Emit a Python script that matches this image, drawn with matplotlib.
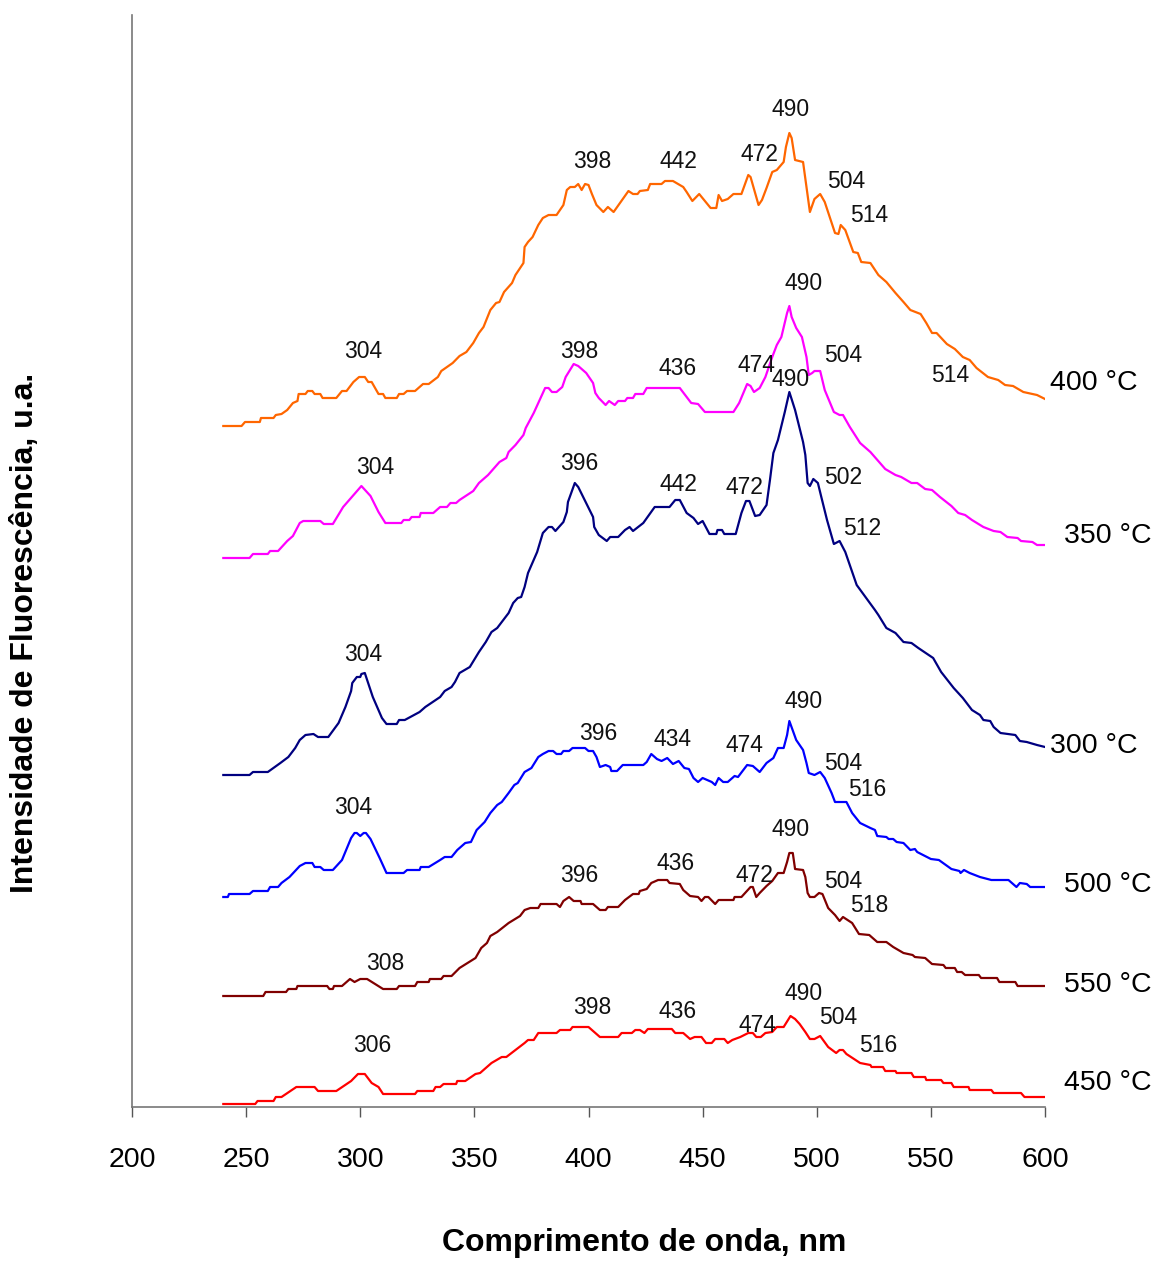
import matplotlib
matplotlib.use("Agg")
import matplotlib.pyplot as plt
from matplotlib import font_manager

# Emission spectra, wavelength (nm) vs fluorescence intensity (a.u., stacked)
wl_400 = [240, 248, 249.5, 256, 256.5, 262, 263, 265.5, 268, 270.5,
          272.5, 273, 276, 277, 279, 280, 282.5, 283.5, 289.5, 292,
          294, 297, 299.5, 302, 303.5, 305, 308, 310, 311, 316,
          317, 319, 320.5, 324, 327.5, 330, 334, 335.5, 340.5, 343.5,
          346.5, 349.5, 352, 354, 357, 359.5, 361, 363, 366.5, 368,
          371.5, 372, 373.5, 375.5, 378, 380, 382.5, 386, 389, 390.5,
          392, 394, 395.5, 397, 398.5, 400, 401.5, 403.5, 406.5, 408.5,
          411, 417.5, 419.5, 421.5, 422.5, 426, 427, 432, 433.5, 437,
          441.5, 443, 445.5, 448.5, 453.5, 456, 457, 458.5, 461, 463.5,
          467, 470, 471, 474.5, 476, 478, 480.5, 482.5, 485.5, 486.5,
          488, 489, 490.5, 494, 495.5, 497, 499, 501.5, 503.5, 508,
          509.5, 510.5, 512.5, 516, 518, 519.5, 523.5, 527, 530.5, 534.5,
          538, 541, 545.5, 548, 550.5, 552.5, 557, 560.5, 564, 567,
          570, 575, 579.5, 582.5, 586, 590.5, 596.5, 600]
int_400 = [681, 681, 685, 685, 689, 689, 692, 693, 697, 704,
           706, 713, 713, 716, 716, 713, 713, 709, 709, 716,
           716, 725, 730, 730, 725, 725, 713, 713, 709, 709,
           713, 713, 716, 716, 723, 723, 730, 736, 744, 751,
           755, 764, 774, 780, 797, 804, 805, 815, 824, 832,
           844, 860, 865, 870, 882, 889, 892, 892, 902, 917,
           920, 920, 923, 917, 923, 922, 913, 902, 895, 900,
           895, 916, 913, 913, 916, 917, 923, 923, 926, 926,
           920, 915, 906, 913, 899, 899, 912, 906, 908, 913,
           913, 932, 930, 902, 907, 919, 935, 937, 945, 960,
           974, 969, 947, 945, 920, 895, 908, 913, 905, 874,
           873, 882, 877, 855, 854, 845, 844, 832, 825, 814,
           805, 797, 793, 784, 774, 774, 763, 758, 750, 747,
           739, 730, 727, 722, 721, 715, 712, 708]

wl_350 = [240, 251.5, 253, 259.5, 260.5, 264, 268, 270.5, 273.5, 275,
          282.5, 284, 288, 292.5, 300.5, 304.5, 308, 311, 318, 319,
          321.5, 322.5, 326, 326.5, 332, 335, 338, 339.5, 342, 343.5,
          349.5, 352, 356, 361, 364, 365, 368, 371.5, 372.5, 376,
          380, 381, 382.5, 384, 386, 388.5, 390, 393.5, 395.5, 399,
          402, 403, 404.5, 407.5, 409, 411.5, 413, 416, 417, 419.5,
          420.5, 424, 425.5, 440, 445, 448, 451, 463.5, 466, 469.5,
          471, 472.5, 475, 477.5, 480.5, 482.5, 484.5, 487, 488, 489,
          491, 493.5, 495.5, 496.5, 498, 499, 501.5, 503.5, 507.5, 510,
          511.5, 514.5, 519, 522, 523.5, 530, 534.5, 537, 541.5, 544,
          547.5, 550.5, 554, 559, 562, 565, 568, 573, 577.5, 580.5,
          583.5, 588, 589.5, 594.5, 596.5, 600]
int_350 = [549, 549, 553, 553, 556, 556, 566, 571, 584, 586,
           586, 583, 583, 600, 621, 611, 595, 584, 584, 587,
           587, 590, 590, 594, 594, 600, 600, 604, 604, 607,
           616, 624, 632, 645, 649, 655, 662, 672, 679, 694,
           714, 719, 719, 715, 715, 720, 730, 743, 741, 734,
           724, 714, 709, 702, 706, 702, 706, 706, 709, 709,
           713, 713, 719, 719, 704, 703, 695, 695, 704, 723,
           721, 715, 719, 730, 750, 762, 770, 794, 801, 790,
           779, 770, 750, 732, 734, 736, 736, 717, 695, 692,
           692, 680, 664, 658, 655, 638, 632, 630, 624, 624,
           618, 617, 610, 601, 594, 592, 587, 580, 576, 575,
           570, 569, 566, 565, 562, 562]

wl_300 = [240, 251.5, 253, 259.5, 265, 268.5, 271.5, 273.5, 276, 279.5,
          281.5, 286, 290.5, 293.5, 296, 296.5, 298.5, 300, 300.5, 302,
          305.5, 309.5, 311.5, 316, 317, 319.5, 326, 328.5, 335, 337,
          340, 341.5, 343.5, 348, 352, 355, 357.5, 360, 365, 367,
          369, 370.5, 372, 373.5, 377.5, 380, 382.5, 384, 385.5, 389,
          390.5, 391, 394, 395.5, 402, 402.5, 404.5, 408, 409.5, 413,
          416, 418, 419.5, 424, 429, 435.5, 438, 440, 443, 446,
          448, 450, 453, 456, 456.5, 458.5, 459.5, 464.5, 467, 469,
          470.5, 473, 475, 478, 479.5, 481, 483, 486, 488, 490.5,
          494, 495, 496, 497, 498.5, 500.5, 502, 504.5, 507.5, 510,
          512.5, 517.5, 525.5, 527, 530.5, 534.5, 538, 541.5, 544.5, 551,
          554.5, 560, 564, 568, 571.5, 573, 576, 577.5, 580.5, 587,
          589, 592, 596.5, 600]
int_300 = [332, 332, 335, 335, 344, 350, 359, 367, 372, 373,
           370, 370, 384, 400, 416, 424, 430, 430, 433, 434,
           410, 389, 383, 383, 387, 387, 395, 400, 410, 416,
           420, 425, 434, 440, 455, 465, 475, 479, 494, 504,
           509, 510, 520, 534, 555, 574, 580, 580, 576, 585,
           595, 605, 624, 620, 590, 580, 572, 566, 570, 570,
           577, 580, 576, 584, 600, 600, 607, 607, 594, 589,
           583, 586, 573, 573, 577, 577, 573, 573, 594, 606,
           606, 591, 592, 602, 627, 654, 667, 695, 715, 697,
           665, 652, 624, 621, 628, 624, 610, 587, 563, 566,
           555, 522, 497, 492, 479, 474, 465, 464, 459, 449,
           435, 419, 409, 397, 392, 387, 386, 380, 374, 372,
           366, 365, 362, 360]

wl_500 = [240, 242, 242.5, 251.5, 253, 259.5, 260.5, 264, 265.5, 269,
          273.5, 276, 279, 280, 282.5, 284, 288, 292, 296, 297.5,
          298.5, 300, 301.5, 302.5, 304.5, 308.5, 311.5, 319, 320.5, 326,
          326.5, 330, 335, 337, 340, 342.5, 346, 348.5, 351, 354.5,
          357, 360, 362, 365, 367.5, 369, 372, 375, 378, 380,
          382.5, 384.5, 386, 388, 389, 391.5, 393, 398.5, 400, 402,
          403.5, 405, 407.5, 409.5, 410, 412.5, 415, 424, 425.5, 427.5,
          430, 432, 434.5, 437, 439.5, 442, 444, 446, 448, 450,
          454, 455.5, 457, 459, 461, 464, 465.5, 469.5, 472, 475,
          478, 481, 483, 485.5, 487, 488, 491, 494, 495.5, 496.5,
          499, 501.5, 503.5, 506.5, 508, 513, 515.5, 519, 523.5, 525.5,
          526.5, 530.5, 531.5, 533.5, 535, 538, 541, 543, 544, 550,
          553.5, 559, 562.5, 563, 564.5, 567, 571.5, 576.5, 584, 585.5,
          587.5, 589, 592, 593.5, 600]
int_500 = [210, 210, 213, 213, 216, 216, 220, 220, 224, 230,
           241, 244, 244, 240, 240, 237, 237, 247, 269, 274,
           274, 271, 274, 274, 268, 249, 234, 234, 237, 237,
           240, 240, 247, 250, 250, 257, 264, 265, 277, 285,
           294, 302, 305, 314, 322, 324, 335, 339, 350, 353,
           356, 356, 353, 353, 356, 356, 359, 359, 356, 356,
           350, 340, 342, 340, 336, 336, 342, 342, 345, 353,
           348, 346, 349, 343, 346, 339, 338, 329, 325, 329,
           325, 322, 329, 325, 325, 331, 330, 342, 341, 335,
           344, 349, 359, 359, 372, 386, 367, 357, 344, 334,
           332, 335, 329, 314, 305, 305, 294, 284, 279, 277,
           271, 270, 268, 268, 265, 264, 257, 258, 255, 248,
           247, 238, 236, 234, 237, 234, 230, 227, 227, 224,
           220, 224, 223, 220, 220]

wl_550 = [240, 257.5, 258.5, 267.5, 268.5, 272, 272.5, 285.5, 286.5, 288,
          288.5, 292, 295.5, 297.5, 300, 303, 310, 316, 317, 324,
          325, 330, 330.5, 335.5, 336.5, 340, 343.5, 350.5, 353, 355.5,
          357, 360, 365, 370, 372, 374.5, 378, 379, 386, 387.5,
          389, 391.5, 393.5, 396.5, 397, 402, 405, 407.5, 408.5, 413,
          416, 419.5, 422, 422.5, 425.5, 427.5, 430.5, 434.5, 435.5, 440,
          441.5, 444.5, 448, 449.5, 451, 452.5, 455.5, 457, 463.5, 464,
          467, 471, 472, 473.5, 475, 478, 480.5, 483, 485.5, 487,
          488, 489.5, 490.5, 494, 495, 496, 497, 499, 501, 502.5,
          505, 508, 510, 511.5, 515.5, 518.5, 523, 526.5, 530.5, 533.5,
          538, 542, 543, 547.5, 550.5, 555.5, 556.5, 560.5, 561.5, 563.5,
          565, 571, 572, 579, 580, 587, 588, 600]
int_550 = [111, 111, 115, 115, 118, 118, 121, 121, 118, 118,
           121, 121, 128, 125, 128, 128, 118, 118, 121, 121,
           125, 125, 128, 128, 131, 131, 139, 149, 159, 164,
           171, 175, 184, 191, 197, 199, 199, 203, 203, 200,
           206, 210, 206, 206, 203, 203, 197, 197, 200, 200,
           207, 213, 213, 216, 218, 224, 227, 227, 224, 223,
           217, 211, 210, 206, 210, 210, 203, 207, 207, 210,
           210, 220, 220, 210, 214, 221, 226, 234, 234, 245,
           254, 254, 238, 237, 230, 214, 210, 210, 214, 213,
           199, 192, 186, 190, 184, 173, 172, 165, 165, 160,
           154, 152, 150, 149, 143, 142, 139, 139, 135, 135,
           132, 132, 129, 129, 125, 125, 121, 121]

wl_450 = [240, 254, 255, 262, 263, 265.5, 272, 280, 281.5, 289.5,
          296, 299, 302, 305, 308, 310, 324, 325, 332, 333,
          335, 336.5, 342, 342.5, 346, 350.5, 352.5, 357.5, 362, 364,
          368, 372, 373.5, 376, 378, 386, 387.5, 392, 393, 400,
          405, 413, 414.5, 419, 420.5, 422.5, 424.5, 426, 436.5, 438,
          441.5, 444.5, 446.5, 449.5, 451.5, 454, 455.5, 459.5, 461, 463,
          466.5, 470, 472, 473.5, 475.5, 477.5, 480.5, 482.5, 485.5, 488.5,
          490.5, 492.5, 495, 497, 499, 501.5, 505, 508.5, 510, 511.5,
          513, 519, 523.5, 524, 529, 530, 534.5, 535, 541.5, 542.5,
          547.5, 548, 554.5, 555.5, 559, 560, 566.5, 567, 576.5, 577.5,
          589.5, 591, 600]
int_450 = [3, 3, 6, 6, 10, 10, 20, 20, 16, 16,
           26, 33, 33, 24, 20, 13, 13, 16, 16, 20,
           20, 23, 23, 26, 26, 33, 34, 44, 50, 50,
           57, 64, 67, 67, 74, 74, 77, 77, 80, 80,
           70, 70, 74, 74, 77, 77, 74, 78, 78, 74,
           74, 68, 70, 70, 64, 64, 68, 68, 64, 67,
           70, 74, 74, 70, 70, 74, 75, 80, 80, 91,
           88, 83, 75, 68, 68, 71, 60, 54, 57, 57,
           53, 44, 42, 40, 40, 36, 36, 34, 34, 30,
           30, 27, 27, 24, 24, 20, 20, 17, 17, 14,
           14, 10, 10]

temps = ["400 °C", "350 °C", "300 °C", "500 °C", "550 °C", "450 °C"]
colors = ["#FF6600", "#FF00FF", "#000080", "#0000FF", "#800000", "#FF0000"]

# peak labels: (text, x, y) placed above the curves
peaks_400 = [("304", 301.2, 755), ("398", 401.5, 945), ("442", 439.2, 945),
             ("472", 474.7, 952), ("490", 488.7, 997), ("504", 512.8, 925),
             ("514", 522.9, 891), ("514", 558.4, 731)]
peaks_350 = [("304", 306.5, 639), ("398", 395.8, 755), ("436", 439.2, 738),
             ("474", 473.4, 741), ("490", 494.4, 823), ("504", 511.5, 751)]
peaks_300 = [("304", 301.2, 452), ("396", 395.8, 643), ("442", 439.2, 622),
             ("472", 468.1, 619), ("490", 488.7, 727), ("502", 511.5, 629),
             ("512", 519.8, 578)]
peaks_500 = [("304", 296.8, 300), ("396", 404.2, 374), ("434", 437.0, 368),
             ("474", 468.1, 361), ("490", 494.4, 405), ("504", 511.5, 344),
             ("516", 522.0, 317)]
peaks_550 = [("308", 310.8, 144), ("396", 395.8, 232), ("436", 438.3, 243),
             ("472", 472.5, 232), ("490", 488.7, 277), ("504", 511.5, 226),
             ("518", 522.9, 201)]
peaks_450 = [("306", 305.1, 62), ("398", 401.5, 99), ("436", 439.2, 96),
             ("474", 473.8, 82), ("490", 494.4, 113), ("504", 509.3, 89),
             ("516", 526.8, 62)]

# where the temperature tags sit (x in nm, y in a.u.)
tag_pos = [(602.2, 724), (608.3, 571), (602.2, 361),
           (608.3, 222), (608.3, 122), (608.3, 24)]

series = [(wl_400, int_400, peaks_400), (wl_350, int_350, peaks_350),
          (wl_300, int_300, peaks_300), (wl_500, int_500, peaks_500),
          (wl_550, int_550, peaks_550), (wl_450, int_450, peaks_450)]

names = {f.name for f in font_manager.fontManager.ttflist}
narrow = "Liberation Sans Narrow" if "Liberation Sans Narrow" in names else None
plt.rcParams["font.family"] = ["Liberation Sans", "DejaVu Sans"]
# no narrow face available -> shrink the regular one to keep the same widths
big = 25 if narrow else 20.5
big_family = [narrow or "Liberation Sans", "DejaVu Sans"]

fig = plt.figure(figsize=(11.57, 12.62), dpi=100)
ax = fig.add_axes([132 / 1157, 155 / 1262, 913 / 1157, 1092 / 1262])

for (wl, inten, peaks), col, temp, (tx, ty) in zip(series, colors, temps, tag_pos):
    ax.plot(wl, inten, color=col, lw=1.6, solid_joinstyle="round")
    for txt, px, py in peaks:
        ax.text(px, py, txt, ha="center", va="center", fontsize=16.5,
                color="#111111")
    ax.text(tx, ty, temp, ha="left", va="center", fontsize=big,
            family=big_family, clip_on=False)

ax.set_xlim(200, 600)
ax.set_ylim(0, 1092)
ax.set_xticks(range(200, 601, 50))
ax.set_yticks([])
ax.spines["top"].set_visible(False)
ax.spines["right"].set_visible(False)
for s in ("left", "bottom"):
    ax.spines[s].set_color("#777777")
    ax.spines[s].set_linewidth(1.2)
ax.tick_params(axis="x", direction="out", length=7, width=1, color="#555555",
               pad=22, labelsize=big)
for lab in ax.get_xticklabels():
    lab.set_family(big_family)

fig.text(644 / 1157, 1 - 1243 / 1262, "Comprimento de onda, nm", ha="center",
         va="center", fontsize=23, fontweight="bold")
fig.text(25 / 1157, 1 - 633 / 1262, "Intensidade de Fluorescência, u.a.",
         ha="center", va="center", rotation=90, fontsize=23, fontweight="bold")

fig.savefig("out.png", dpi=100)
